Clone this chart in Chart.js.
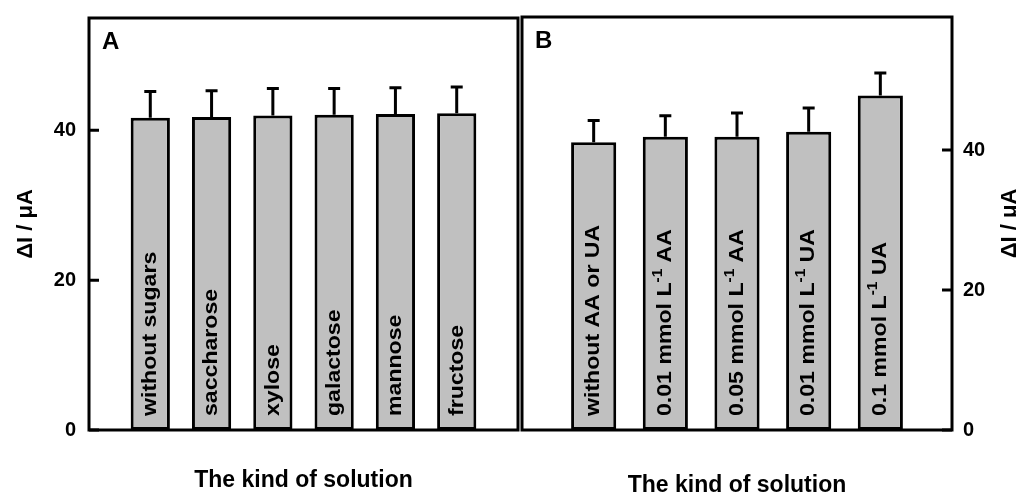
<!DOCTYPE html>
<html>
<head>
<meta charset="utf-8">
<script src="https://cdn.jsdelivr.net/npm/chart.js@4.4.0/dist/chart.umd.min.js"></script>
<style>
  html, body { margin: 0; padding: 0; background: #fff; overflow: hidden; }
  #wrap { position: relative; width: 1016px; height: 493px; overflow: hidden; }
  canvas { position: absolute; top: 0; }
  #chartA { left: 0; }
  #chartB { left: 520px; }
</style>
</head>
<body>
<div id="wrap">
  <canvas id="chartA" width="520" height="500"></canvas>
  <canvas id="chartB" width="510" height="500"></canvas>
</div>
<script>
// panel A: sugars
const sugarLabels = ['without sugars', 'saccharose', 'xylose', 'galactose', 'mannose', 'fructose'];
const sugarValues = [41.7, 41.8, 42.0, 42.1, 42.2, 42.3];
const sugarErrors = [3.5, 3.5, 3.6, 3.5, 3.5, 3.5];

// panel B: ascorbic / uric acid ("^" marks a superscript)
const acidLabels = ['without AA or UA', '0.01 mmol L^-1 AA', '0.05 mmol L^-1 AA', '0.01 mmol L^-1 UA', '0.1 mmol L^-1 UA'];
const acidValues = [41.1, 41.9, 41.9, 42.6, 47.8];
const acidErrors = [3.1, 3.0, 3.4, 3.4, 3.2];

const yTicksA = [0, 20, 40];
const yTicksB = [0, 20, 40];
const yMaxA = 55;
const yMaxB = 59;

const FAMILY = "'Liberation Sans', Arial, sans-serif";
Chart.defaults.font.family = FAMILY;
Chart.defaults.font.weight = 'bold';
Chart.defaults.color = '#000';

function drawRich(ctx, text, size) {
    let x = 0;
    text.split(/(\^\S+)/).forEach(part => {
        if (!part) return;
        const sup = part[0] === '^';
        const s = sup ? part.slice(1) : part;
        ctx.font = `bold ${sup ? Math.round(size * 0.65) : size}px ${FAMILY}`;
        ctx.fillText(s, x, sup ? -size * 0.35 : 0);
        x += ctx.measureText(s).width;
    });
}

const panelPlugin = {
    id: 'panel',
    afterDatasetsDraw(chart, args, opts) {
        const ctx = chart.ctx;
        const meta = chart.getDatasetMeta(0);
        const y = chart.scales.y;
        const data = chart.data.datasets[0].data;
        ctx.save();
        ctx.strokeStyle = '#000';
        ctx.lineWidth = 3;
        meta.data.forEach((bar, i) => {
            const top = y.getPixelForValue(data[i].y + opts.errors[i]);
            ctx.beginPath();
            ctx.moveTo(bar.x, bar.y);
            ctx.lineTo(bar.x, top);
            ctx.moveTo(bar.x - 6, top);
            ctx.lineTo(bar.x + 6, top);
            ctx.stroke();
        });
        ctx.fillStyle = '#000';
        ctx.textAlign = 'left';
        ctx.textBaseline = 'middle';
        meta.data.forEach((bar, i) => {
            ctx.save();
            ctx.translate(bar.x, bar.base - 14);
            ctx.rotate(-Math.PI / 2);
            ctx.scale(1.1, 1);
            drawRich(ctx, opts.labels[i], 21);
            ctx.restore();
        });
        ctx.restore();
    },
    afterDraw(chart, args, opts) {
        const ctx = chart.ctx;
        const {left, right, top, bottom} = chart.chartArea;
        const y = chart.scales.y;
        ctx.save();
        ctx.strokeStyle = '#000';
        ctx.lineWidth = 3;
        ctx.strokeRect(left, top, right - left, bottom - top);
        ctx.beginPath();
        y.ticks.forEach(t => {
            const p = y.getPixelForValue(t.value);
            if (opts.side === 'left') {
                ctx.moveTo(left, p);
                ctx.lineTo(left + 10, p);
            } else {
                ctx.moveTo(right - 10, p);
                ctx.lineTo(right, p);
            }
        });
        ctx.stroke();
        ctx.fillStyle = '#000';
        ctx.font = `bold 24px ${FAMILY}`;
        ctx.textAlign = 'left';
        ctx.textBaseline = 'alphabetic';
        ctx.fillText(opts.letter, left + 13, top + 31);
        if (opts.rightTitle) {
            ctx.font = `bold 22px ${FAMILY}`;
            ctx.translate(y.left + 58, (top + bottom) / 2);
            ctx.rotate(-Math.PI / 2);
            ctx.textAlign = 'center';
            ctx.textBaseline = 'middle';
            ctx.fillText(opts.rightTitle, 0, 0);
        }
        ctx.restore();
    }
};

function noPad(s) {
    s.paddingTop = 0;
    s.paddingBottom = 0;
    s.paddingLeft = 0;
    s.paddingRight = 0;
}

function makeChart(id, labels, values, errors, yTicks, yMax, side, letter, barPct, titlePad) {
    const yAxis = {
        position: side,
        min: 0,
        max: yMax,
        afterBuildTicks: s => { s.ticks = yTicks.map(v => ({value: v})); },
        ticks: { font: { size: 20, weight: 'bold' }, padding: side === 'left' ? 13 : 11 },
        grid: { display: false, drawTicks: false },
        border: { display: false },
        title: {
            display: side === 'left',
            text: 'ΔI / μA',
            font: { size: 22, weight: 'bold' },
            padding: { top: 13, bottom: 0 }
        },
        afterFit: s => { s.width = side === 'left' ? 89 : 78; noPad(s); }
    };
    return new Chart(document.getElementById(id), {
        type: 'bar',
        data: {
            datasets: [{
                data: values.map((v, i) => ({x: i + 1, y: v})),
                backgroundColor: '#c0c0c0',
                borderColor: '#000',
                borderWidth: 3,
                borderSkipped: false,
                categoryPercentage: 1,
                barPercentage: barPct
            }]
        },
        options: {
            responsive: false,
            animation: false,
            layout: { padding: side === 'left' ? { top: 18, right: 2, left: 0, bottom: 0 } : { top: 17, right: 0, left: 2, bottom: 0 } },
            plugins: {
                legend: { display: false },
                tooltip: { enabled: false },
                panel: {
                    labels: labels,
                    errors: errors,
                    side: side,
                    letter: letter,
                    rightTitle: side === 'right' ? 'ΔI / μA' : null
                }
            },
            scales: {
                x: {
                    type: 'linear',
                    min: 0,
                    max: labels.length + 1,
                    offset: false,
                    ticks: { display: false, stepSize: 1 },
                    grid: { display: false, drawTicks: false },
                    border: { display: false },
                    title: {
                        display: true,
                        text: 'The kind of solution',
                        font: { size: 23, weight: 'bold' },
                        padding: { top: 0, bottom: titlePad }
                    },
                    afterFit: s => { s.height = 70; noPad(s); }
                },
                y: yAxis
            }
        },
        plugins: [panelPlugin]
    });
}

makeChart('chartA', sugarLabels, sugarValues, sugarErrors, yTicksA, yMaxA, 'left', 'A', 0.64, 6);
makeChart('chartB', acidLabels, acidValues, acidErrors, yTicksB, yMaxB, 'right', 'B', 0.63, 1);
</script>
</body>
</html>
